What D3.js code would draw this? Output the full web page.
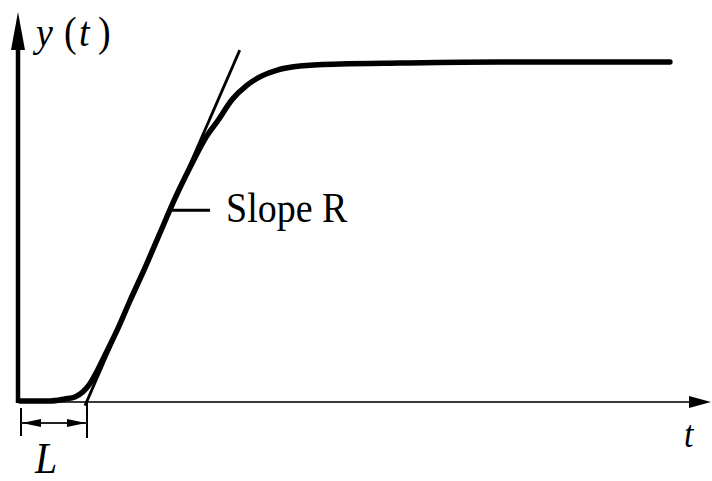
<!DOCTYPE html>
<html>
<head>
<meta charset="utf-8">
<script src="https://cdn.jsdelivr.net/npm/d3@7/dist/d3.min.js"></script>
<style>
  html, body { margin: 0; padding: 0; background: #fff; }
  svg { display: block; }
  text { font-family: "Liberation Serif", "DejaVu Serif", serif; fill: #000; }
</style>
</head>
<body>
<script>
// Step response y(t) of a process: time samples and normalised output
const timeValues = [0, 0.45, 0.67, 0.82, 0.94, 1.04, 1.15, 1.27, 1.45, 1.64, 1.87, 2.09, 2.31,
  2.54, 2.76, 2.96, 3.16, 3.39, 3.61, 3.84, 4.18, 4.78, 5.67, 7.16, 8.66, 9.70];
const responseValues = [0, 0, 0.006, 0.012, 0.027, 0.050, 0.088, 0.136, 0.209, 0.295, 0.395,
  0.496, 0.596, 0.690, 0.773, 0.829, 0.888, 0.932, 0.959, 0.976, 0.988, 0.994, 0.997, 1, 1, 1];

// Apparent dead time L and maximum slope R of the tangent through the inflection point
const deadTime = 1.0;
const slopeR = 0.454;
const tangentEnd = 3.28;
const slopeLabelAt = 2.24;

const width = 712, height = 481;
const svg = d3.select("body").append("svg")
  .attr("width", width).attr("height", height);

const x = d3.scaleLinear().domain([0, 10]).range([20, 690]);
const y = d3.scaleLinear().domain([0, 1]).range([401, 62]);

const axisX0 = 18;

// axes with arrow heads
svg.append("line")
  .attr("x1", axisX0).attr("x2", 700)
  .attr("y1", y(0) + 1).attr("y2", y(0) + 1)
  .attr("stroke", "#3a3a3a").attr("stroke-width", 2.2);
svg.append("path")
  .attr("d", `M${711},${y(0) + 1} L${689},${y(0) - 5} L${689},${y(0) + 7} Z`)
  .attr("fill", "#000");

svg.append("line")
  .attr("x1", axisX0).attr("x2", axisX0)
  .attr("y1", y(0) + 2).attr("y2", 30)
  .attr("stroke", "#000").attr("stroke-width", 4.5);
svg.append("path")
  .attr("d", `M${axisX0},12 L${axisX0 - 7},50 L${axisX0 + 7},50 Z`)
  .attr("fill", "#000");

// response curve
const line = d3.line()
  .x((d, i) => x(timeValues[i]))
  .y(d => y(d))
  .curve(d3.curveMonotoneX);

svg.append("path")
  .datum(responseValues)
  .attr("d", line)
  .attr("fill", "none")
  .attr("stroke", "#000")
  .attr("stroke-width", 5.5)
  .attr("stroke-linecap", "round")
  .attr("stroke-linejoin", "round");

// tangent line of slope R
const tangentStart = deadTime - 0.03;
svg.append("line")
  .attr("x1", x(tangentStart)).attr("y1", y(slopeR * (tangentStart - deadTime)))
  .attr("x2", x(tangentEnd)).attr("y2", y(slopeR * (tangentEnd - deadTime)))
  .attr("stroke", "#000").attr("stroke-width", 2.8);

// slope label with leader
const lx = x(slopeLabelAt), ly = y(slopeR * (slopeLabelAt - deadTime));
svg.append("line")
  .attr("x1", lx).attr("x2", lx + 40)
  .attr("y1", ly).attr("y2", ly)
  .attr("stroke", "#000").attr("stroke-width", 3);
svg.append("text")
  .attr("transform", `translate(${lx + 56},${ly + 12}) scale(1,1.12)`)
  .attr("font-size", 38)
  .text("Slope R");

// dead time bracket
const bY = 423;
const bx0 = x(0) + 1, bx1 = x(deadTime);
svg.append("line").attr("x1", bx0).attr("x2", bx0).attr("y1", 408).attr("y2", 436)
  .attr("stroke", "#000").attr("stroke-width", 2);
svg.append("line").attr("x1", bx1).attr("x2", bx1).attr("y1", 403).attr("y2", 438)
  .attr("stroke", "#000").attr("stroke-width", 2);
svg.append("line").attr("x1", bx0).attr("x2", bx1).attr("y1", bY).attr("y2", bY)
  .attr("stroke", "#222").attr("stroke-width", 1.8);
svg.append("path")
  .attr("d", `M${bx0 + 1},${bY} L${bx0 + 20},${bY - 4} L${bx0 + 20},${bY + 4} Z`)
  .attr("fill", "#000");
svg.append("path")
  .attr("d", `M${bx1 - 1},${bY} L${bx1 - 20},${bY - 4} L${bx1 - 20},${bY + 4} Z`)
  .attr("fill", "#000");

// labels
svg.append("text")
  .attr("transform", `translate(35,473) scale(1,1.12)`)
  .attr("font-size", 40).attr("font-style", "italic")
  .text("L");
svg.append("text")
  .attr("transform", `translate(684,447) scale(1,1.1)`)
  .attr("font-size", 34).attr("font-style", "italic")
  .text("t");

const yl = svg.append("g").attr("transform", "translate(0,46) scale(1,1.1)");
yl.append("text").attr("x", 36).attr("font-size", 38).attr("font-style", "italic").text("y");
yl.append("text").attr("x", 64).attr("font-size", 38).text("(");
yl.append("text").attr("x", 79).attr("font-size", 38).attr("font-style", "italic").text("t");
yl.append("text").attr("x", 98).attr("font-size", 38).text(")");
</script>
</body>
</html>
